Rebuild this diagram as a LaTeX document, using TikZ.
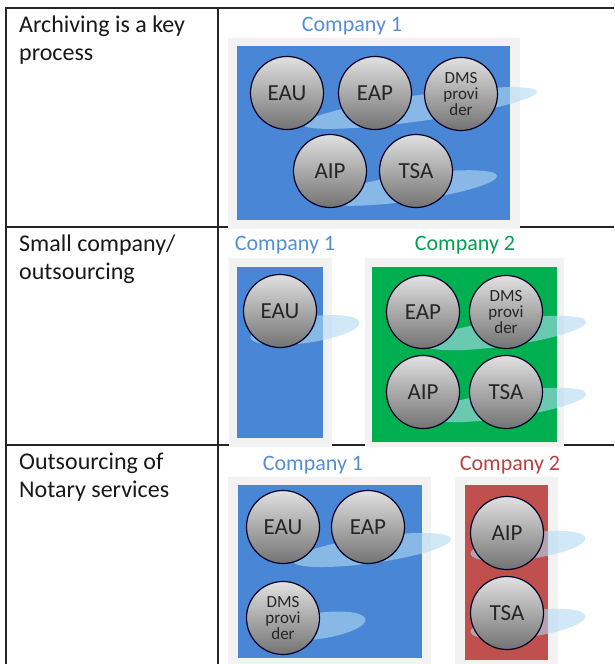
\documentclass[tikz,border=0pt]{standalone}
\usepackage{fontspec}
\setmainfont{Carlito}
\usetikzlibrary{positioning}

\definecolor{compblue}{RGB}{74,134,214}
\definecolor{compgreen}{RGB}{0,176,80}
\definecolor{compred}{RGB}{192,80,77}
\definecolor{framegray}{RGB}{242,242,242}
\definecolor{swooshblue}{RGB}{178,218,242}
\definecolor{lblblue}{RGB}{85,142,213}
\definecolor{lblgreen}{RGB}{0,160,80}
\definecolor{lblred}{RGB}{182,66,66}

\tikzset{
  gridline/.style={line width=1.3pt, black!85},
  unit/.style={circle, draw=black!85!blue, line width=1.2pt, minimum size=73pt,
    inner sep=0pt, top color=black!12, bottom color=black!55,
    font=\fontsize{23}{23}\selectfont, text=black!85},
  dms/.style={unit, align=center, font=\fontsize{17}{16}\selectfont},
  company/.style={font=\fontsize{22}{22}\selectfont},
  rowlabel/.style={anchor=north west, align=left, inner sep=0pt,
    font=\fontsize{24}{28}\selectfont, text=black!90},
  swoosh/.style={fill=swooshblue, fill opacity=0.6}
}

\begin{document}
\begin{tikzpicture}[x=1pt, y=-1pt]
    \useasboundingbox (0,0) rectangle (614,664);

    % table grid
    \draw[gridline] (5,8) -- (614,8);
    \draw[gridline] (5,227) -- (614,227);
    \draw[gridline] (5,445) -- (614,445);
    \draw[gridline] (6,8) -- (6,664);
    \draw[gridline] (218,8) -- (218,664);

    \node[rowlabel] (lbl1) at (19,16) {Archiving is a key\\process};
    \node[rowlabel] (lbl2) at (19,235) {Small company/\\outsourcing};
    \node[rowlabel] (lbl3) at (19,453) {Outsourcing of\\Notary services};

    % company frames
    \fill[framegray] (228,38) rectangle (520,229);
    \fill[framegray] (229,258) rectangle (332,447);
    \fill[framegray] (365,258) rectangle (564,447);
    \fill[framegray] (228,477) rectangle (431,664);
    \fill[framegray] (455,477) rectangle (558,664);

    \fill[compblue] (237,46) rectangle (510,220);
    \fill[compblue] (237,267) rectangle (323,438);
    \fill[compgreen] (372,267) rectangle (557,442);
    \fill[compblue] (238,485) rectangle (422,658);
    \fill[compred] (465,485) rectangle (548,660);

    % light swooshes behind the units
    \foreach \cx/\cy/\rx in {420/108/118, 410/188/88, 305/330/55, 505/333/82,
                             505/405/82, 372/550/80, 318/626/48, 528/546/58, 528/624/58}
        \fill[swoosh, shift={(\cx,\cy)}, rotate=8] (0,0) ellipse [x radius=\rx, y radius=13];

    % archiving is a key process
    \node[company, text=lblblue] (c11) at (352,26) {Company 1};
    \node[unit] (eau1) at (287,93) {EAU};
    \node[unit] (eap1) at (375,93) {EAP};
    \node[dms] (dms1) at (461,94) {DMS\\provi\\der};
    \node[unit] (aip1) at (330,171) {AIP};
    \node[unit] (tsa1) at (416,171) {TSA};

    % small company / outsourcing
    \node[company, text=lblblue] (c21) at (285,245) {Company 1};
    \node[company, text=lblgreen] (c22) at (465,245) {Company 2};
    \node[unit] (eau2) at (280,311) {EAU};
    \node[unit] (eap2) at (423,312) {EAP};
    \node[dms] (dms2) at (506,312) {DMS\\provi\\der};
    \node[unit] (aip2) at (423,392) {AIP};
    \node[unit] (tsa2) at (506,392) {TSA};

    % outsourcing of notary services
    \node[company, text=lblblue] (c31) at (313,465) {Company 1};
    \node[company, text=lblred] (c32) at (510,465) {Company 2};
    \node[unit] (eau3) at (283,527) {EAU};
    \node[unit] (eap3) at (368,527) {EAP};
    \node[dms] (dms3) at (283,618) {DMS\\provi\\der};
    \node[unit] (aip3) at (507,533) {AIP};
    \node[unit] (tsa3) at (507,613) {TSA};

\end{tikzpicture}
\end{document}
